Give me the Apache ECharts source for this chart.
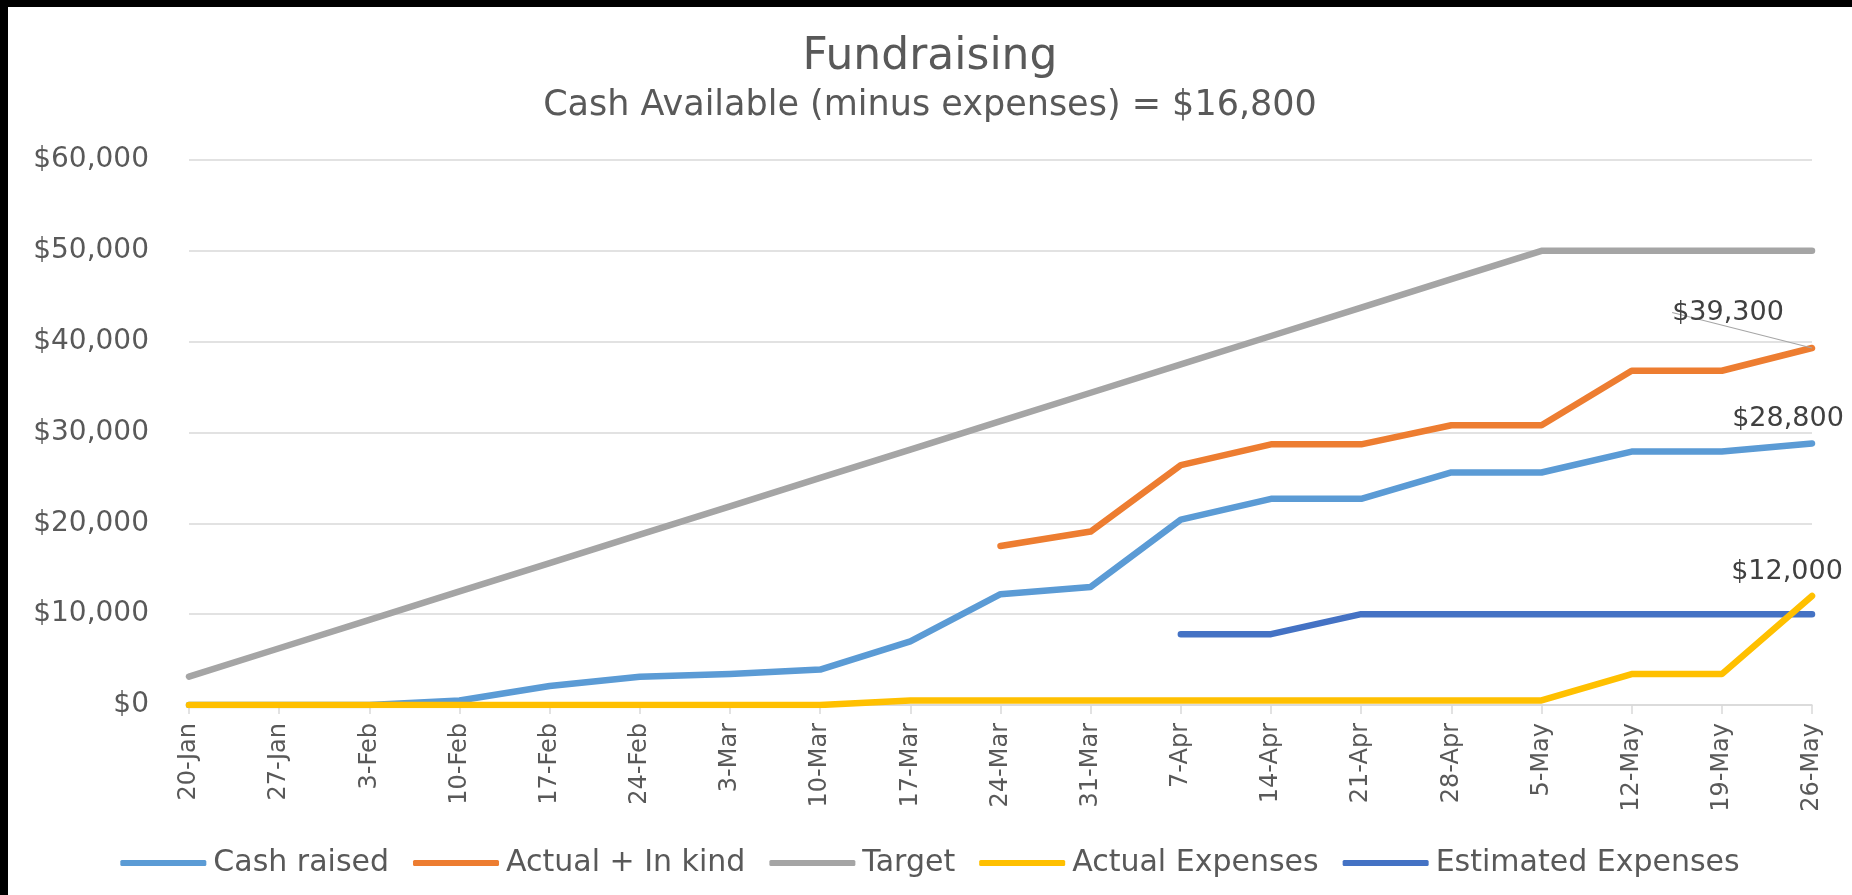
<!DOCTYPE html>
<html>
<head>
<meta charset="utf-8">
<title>Fundraising</title>
<script src="https://cdn.jsdelivr.net/npm/echarts@6/dist/echarts.min.js"></script>
<style>
  html, body { margin: 0; padding: 0; background: #000; }
  #chart { position: absolute; left: 8px; top: 7px; width: 1844px; height: 888px; background: #fff; }
</style>
</head>
<body>
<div id="chart"></div>
<script>
// weekly dates
const weeks = ['20-Jan', '27-Jan', '3-Feb', '10-Feb', '17-Feb', '24-Feb', '3-Mar', '10-Mar', '17-Mar',
  '24-Mar', '31-Mar', '7-Apr', '14-Apr', '21-Apr', '28-Apr', '5-May', '12-May', '19-May', '26-May']

const cashRaised = [0, 0, 0, 500, 2100, 3100, 3400, 3900, 7000, 12200, 13000, 20400, 22700, 22700,
  25600, 25600, 27900, 27900, 28800]
const actualInKind = ['-', '-', '-', '-', '-', '-', '-', '-', '-', 17500, 19100, 26400, 28700, 28700,
  30800, 30800, 36800, 36800, 39300]
const target = [3125, 6250, 9375, 12500, 15625, 18750, 21875, 25000, 28125, 31250, 34375, 37500,
  40625, 43750, 46875, 50000, 50000, 50000, 50000]
const actualExpenses = [0, 0, 0, 0, 0, 0, 0, 0, 500, 500, 500, 500, 500, 500, 500, 500, 3400, 3400, 12000]
const estimatedExpenses = ['-', '-', '-', '-', '-', '-', '-', '-', '-', '-', '-', 7800, 7800, 10000,
  10000, 10000, 10000, 10000, 10000]

const yTicks = [0, 10000, 20000, 30000, 40000, 50000, 60000]

const FONT = 'DejaVu Sans'
const TXT = '#595959'

function money(v) {
  return '$' + v.toLocaleString('en-US')
}

// only the last point gets a label
function withLastLabel(arr, dx, dy) {
  return arr.map(function (v, i) {
    if (i !== arr.length - 1) return v
    return {
      value: v,
      label: {
        show: true,
        formatter: function (p) { return money(p.value) },
        position: 'top',
        offset: [dx, dy],
        fontFamily: FONT,
        fontSize: 27,
        color: '#404040'
      }
    }
  })
}

function lineSeries(name, data, color) {
  return {
    name: name,
    type: 'line',
    data: data,
    symbol: 'circle',
    symbolSize: 0,
    smooth: false,
    connectNulls: false,
    lineStyle: { color: color, width: 6.5, cap: 'round', join: 'round' },
    itemStyle: { color: color },
    emphasis: { disabled: true }
  }
}

const chart = echarts.init(document.getElementById('chart'))

const orange = lineSeries('Actual + In kind', withLastLabel(actualInKind, 0, 0), '#ED7D31')
orange.labelLayout = { dx: -84, dy: -17 }
orange.labelLine = { show: true, length2: 0, lineStyle: { color: '#a6a6a6', width: 1.2 } }

const option = {
  animation: false,
  title: [
    {
      text: 'Fundraising',
      left: 'center',
      top: 24,
      textStyle: { fontFamily: FONT, fontSize: 44, fontWeight: 'normal', color: TXT }
    },
    {
      text: 'Cash Available (minus expenses) = $16,800',
      left: 'center',
      top: 76,
      textStyle: { fontFamily: FONT, fontSize: 35, fontWeight: 'normal', color: TXT }
    }
  ],
  legend: {
    top: 836,
    left: 'center',
    icon: 'roundRect',
    itemWidth: 86,
    itemHeight: 6,
    itemGap: 24,
    textStyle: { fontFamily: FONT, fontSize: 30, color: TXT, padding: [0, 0, 0, 2] },
    data: ['Cash raised', 'Actual + In kind', 'Target', 'Actual Expenses', 'Estimated Expenses']
  },
  grid: { left: 181, right: 40, top: 153, bottom: 190 },
  xAxis: {
    type: 'category',
    data: weeks,
    boundaryGap: false,
    axisLine: { lineStyle: { color: '#d9d9d9', width: 1.5 } },
    axisTick: { show: true, length: 9, alignWithLabel: true, lineStyle: { color: '#d9d9d9', width: 1.5 } },
    axisLabel: { interval: 0, rotate: 90, margin: 18, fontFamily: FONT, fontSize: 24, color: TXT }
  },
  yAxis: {
    type: 'value',
    min: yTicks[0],
    max: yTicks[yTicks.length - 1],
    interval: yTicks[1] - yTicks[0],
    axisLine: { show: false },
    axisTick: { show: false },
    splitLine: { lineStyle: { color: '#d9d9d9', width: 1.5 } },
    axisLabel: { margin: 40, fontFamily: FONT, fontSize: 28, color: TXT, formatter: money }
  },
  series: [
    lineSeries('Target', target, '#A5A5A5'),
    lineSeries('Cash raised', withLastLabel(cashRaised, -24, -6), '#5B9BD5'),
    orange,
    lineSeries('Estimated Expenses', estimatedExpenses, '#4472C4'),
    lineSeries('Actual Expenses', withLastLabel(actualExpenses, -25, -6), '#FFC000')
  ]
}

chart.setOption(option)
</script>
</body>
</html>
